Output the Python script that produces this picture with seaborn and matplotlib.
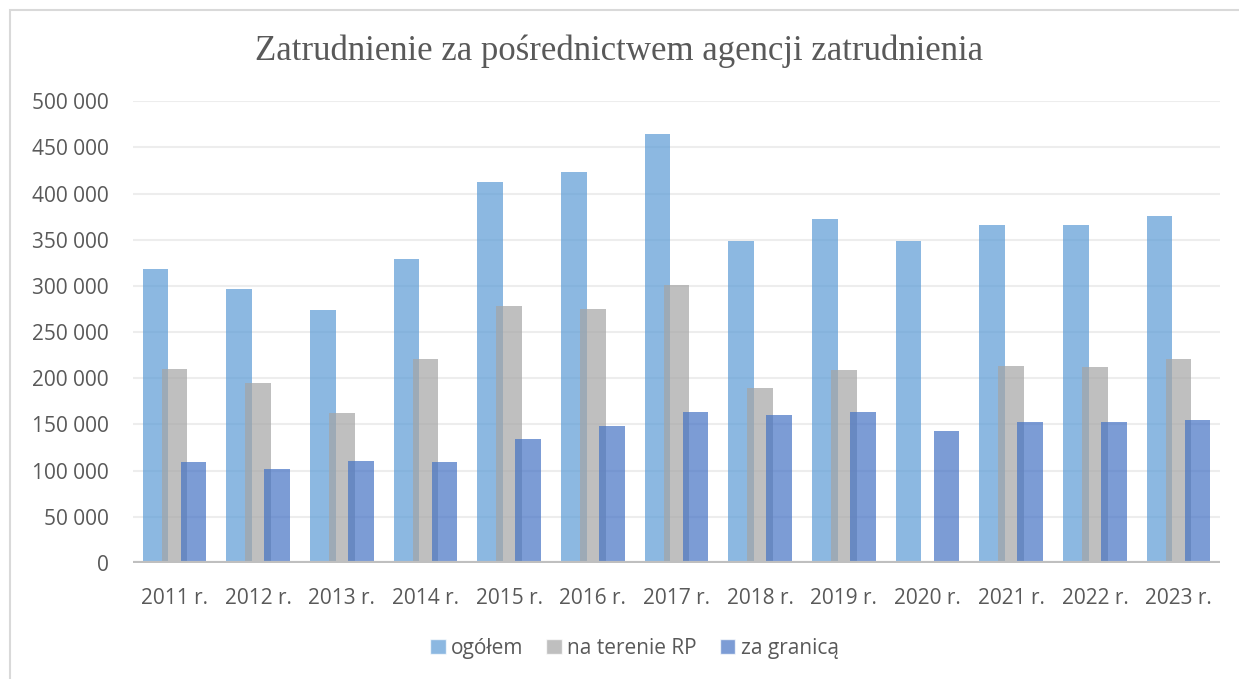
import numpy as np
import pandas as pd
import matplotlib
matplotlib.use("Agg")
import matplotlib.pyplot as plt
import matplotlib.ticker as mticker
import seaborn as sns

# dane
lata = ["2011 r.", "2012 r.", "2013 r.", "2014 r.", "2015 r.", "2016 r.", "2017 r.",
        "2018 r.", "2019 r.", "2020 r.", "2021 r.", "2022 r.", "2023 r."]
ogolem = [318000, 296500, 273500, 329500, 412000, 423500, 464500,
          348500, 372000, 348500, 366000, 366000, 375500]
na_terenie_rp = [209500, 194500, 162500, 220500, 278000, 275000, 301000,
                 189000, 209000, np.nan, 213500, 212500, 220500]
za_granica = [109000, 101500, 110500, 109000, 134500, 148500, 163000,
              160000, 163500, 142500, 152500, 153000, 155000]
serie = ["ogółem", "na terenie RP", "za granicą"]
kolory = ["#5B9BD5", "#A5A5A5", "#4472C4"]

df = pd.DataFrame({"rok": lata, serie[0]: ogolem, serie[1]: na_terenie_rp, serie[2]: za_granica})
df_long = df.melt(id_vars="rok", var_name="seria", value_name="liczba")

sns.set_theme(style="white")
plt.rcParams["font.family"] = ["Open Sans", "DejaVu Sans"]
szary = "#595959"

fig = plt.figure(figsize=(12.39, 6.79), dpi=100)
ax = fig.add_axes([0.107, 0.171, 0.878, 0.680])

sns.barplot(data=df_long, x="rok", y="liczba", hue="seria", hue_order=serie,
            palette=kolory, saturation=1, alpha=0.7, dodge=True, width=0.8, ax=ax)

# Excel-style overlapping bars
szer = 0.305
przes = 0.227
for k, cont in enumerate(ax.containers):
    for bar in cont:
        srodek = round(bar.get_x() + bar.get_width() / 2)
        bar.set_width(szer)
        bar.set_x(srodek + (k - 1) * przes - szer / 2)
        bar.set_edgecolor("none")

ax.set_xlim(-0.5, len(lata) - 0.5)
ax.set_ylim(0, 500000)
ax.yaxis.set_major_locator(mticker.MultipleLocator(50000))
ax.yaxis.set_major_formatter(mticker.FuncFormatter(lambda v, p: f"{int(v):,}".replace(",", " ")))
ax.grid(axis="y", color="#EDEDED", linewidth=1.5)
ax.set_axisbelow(True)
ax.axhline(0, color="#BFBFBF", linewidth=3, zorder=5)
sns.despine(ax=ax, left=True, bottom=True)
ax.set_xlabel("")
ax.set_ylabel("")
ax.tick_params(axis="y", length=0, pad=17, labelsize=15, labelcolor=szary)
ax.tick_params(axis="x", length=0, pad=18, labelsize=15, labelcolor=szary)

handles, labels = ax.get_legend_handles_labels()
ax.legend_.remove()
fig.legend(handles, labels, loc="center", bbox_to_anchor=(0.512, 0.045), ncol=3,
           frameon=False, fontsize=15, labelcolor=szary, handlelength=0.75,
           handleheight=0.75, handletextpad=0.25, columnspacing=1.1)

fig.text(0.5, 0.924, "Zatrudnienie za pośrednictwem agencji zatrudnienia",
         ha="center", va="center", fontsize=25, color=szary,
         family=["Liberation Serif", "DejaVu Serif"])

fig.add_artist(plt.Rectangle((10 / 1239, -0.05), 1.2, 1.05 - 10 / 679, transform=fig.transFigure,
                             fill=False, edgecolor="#D9D9D9", linewidth=1.5))

fig.savefig("out.png", dpi=100, facecolor="white")
